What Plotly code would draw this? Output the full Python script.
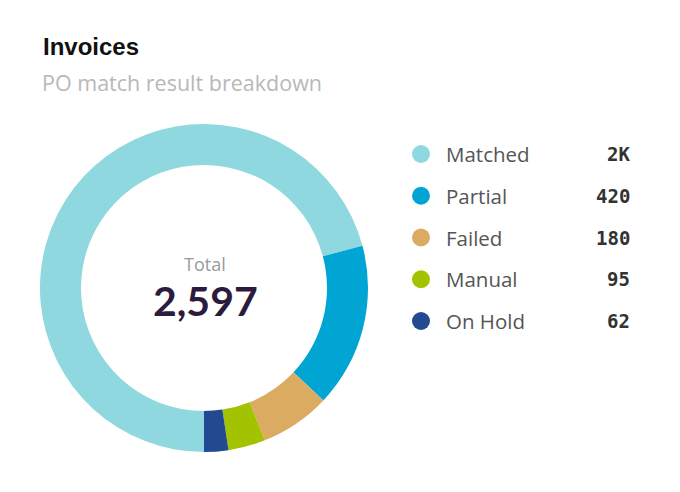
import plotly.graph_objects as go

# data
labels = ['Matched', 'Partial', 'Failed', 'Manual', 'On Hold']
values = [1840, 420, 180, 95, 62]
value_labels = ['2K', '420', '180', '95', '62']
colors = ['#8fd8df', '#00a5d4', '#dbab62', '#a3c200', '#234a91']

total = sum(values)
W, H = 680, 492
OFF = 8  # page body margin pushes the plot 8px right/down


def px(v):
    return (v - OFF) / W


def py(v):
    return 1 - (v - OFF) / H


fig = go.Figure()

fig.add_trace(go.Pie(
    labels=labels, values=values,
    hole=0.75, sort=False, direction='clockwise', rotation=180,
    marker=dict(colors=colors, line=dict(width=0)),
    textinfo='none', showlegend=False,
    domain=dict(x=[px(40), px(368)], y=[py(452), py(124)]),
))

# legend dots, one row per category
idx = list(range(len(labels)))
fig.add_trace(go.Scatter(
    x=[0] * len(labels), y=idx, mode='markers',
    marker=dict(size=18, color=colors, line=dict(width=0)),
    hoverinfo='skip', showlegend=False,
    xaxis='x', yaxis='y',
))

row0, step = 154 - OFF, 41.75
dot_x = 421 - OFF
fig.update_layout(
    width=W, height=H,
    margin=dict(l=0, r=0, t=0, b=0),
    paper_bgcolor='white', plot_bgcolor='white',
    xaxis=dict(domain=[0, 1], range=[-dot_x, W - dot_x], visible=False, fixedrange=True),
    yaxis=dict(domain=[0, 1], range=[(H - row0) / step, -row0 / step], visible=False, fixedrange=True),
    font=dict(family='Open Sans, sans-serif'),
)

ann = []
for i, (lab, vl) in enumerate(zip(labels, value_labels)):
    ann.append(dict(x=444 - 421, y=i, xref='x', yref='y', text=lab, showarrow=False,
                    xanchor='left', yanchor='middle',
                    font=dict(size=20.5, color='#555555', family='Open Sans, sans-serif')))
    ann.append(dict(x=632 - 421, y=i, xref='x', yref='y', text='<b>' + vl + '</b>', showarrow=False,
                    xanchor='right', yanchor='middle',
                    font=dict(size=19, color='#333333', family='DejaVu Sans Mono, monospace')))

# title block
ann.append(dict(x=px(41), y=py(47), xref='paper', yref='paper', text='<b>Invoices</b>',
                showarrow=False, xanchor='left', yanchor='middle',
                font=dict(size=24, color='#111111', family='Liberation Sans, Arial, sans-serif')))
ann.append(dict(x=px(40), y=py(82), xref='paper', yref='paper', text='PO match result breakdown',
                showarrow=False, xanchor='left', yanchor='middle',
                font=dict(size=21.5, color='#b8b8b8', family='Open Sans, sans-serif')))

# centre label
ann.append(dict(x=px(205), y=py(264), xref='paper', yref='paper', text='Total',
                showarrow=False, xanchor='center', yanchor='middle',
                font=dict(size=18, color='#9a9a9a', family='Open Sans, sans-serif')))
ann.append(dict(x=px(205), y=py(300), xref='paper', yref='paper', text='<b>' + f'{total:,}' + '</b>',
                showarrow=False, xanchor='center', yanchor='middle',
                font=dict(size=41, color='#2d1b3d', family='Lato, sans-serif')))

fig.update_layout(annotations=ann)

fig.write_html('out.html')
